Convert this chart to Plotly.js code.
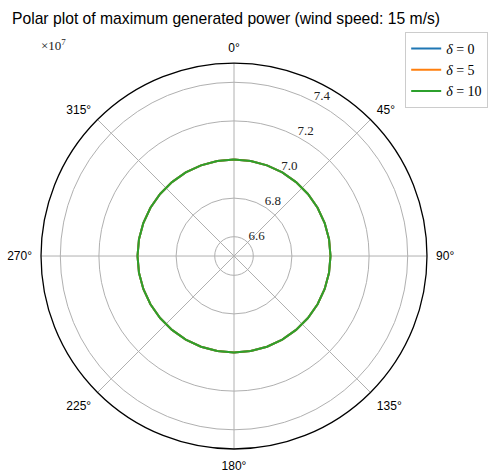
<!DOCTYPE html>
<html>
<head>
<meta charset="utf-8">
<script src="https://cdn.plot.ly/plotly-3.0.1.min.js"></script>
<style>html,body{margin:0;padding:0;background:#fff;}#chart{width:499px;height:476px;}</style>
</head>
<body>
<div id="chart"></div>
<script>
// Wind direction (degrees)
const thetaDeg = [0,10,20,30,40,50,60,70,80,90,100,110,120,130,140,150,160,170,180,
                  190,200,210,220,230,240,250,260,270,280,290,300,310,320,330,340,350,360];
// Maximum generated power (W) per yaw offset delta
const powerDelta0 = [7.0e7,7.0e7,7.0e7,7.0e7,7.0e7,7.0e7,7.0e7,7.0e7,7.0e7,7.0e7,7.0e7,7.0e7,7.0e7,7.0e7,7.0e7,7.0e7,7.0e7,7.0e7,7.0e7,
                     7.0e7,7.0e7,7.0e7,7.0e7,7.0e7,7.0e7,7.0e7,7.0e7,7.0e7,7.0e7,7.0e7,7.0e7,7.0e7,7.0e7,7.0e7,7.0e7,7.0e7,7.0e7];
const powerDelta5 = [7.0e7,7.0e7,7.0e7,7.0e7,7.0e7,7.0e7,7.0e7,7.0e7,7.0e7,7.0e7,7.0e7,7.0e7,7.0e7,7.0e7,7.0e7,7.0e7,7.0e7,7.0e7,7.0e7,
                     7.0e7,7.0e7,7.0e7,7.0e7,7.0e7,7.0e7,7.0e7,7.0e7,7.0e7,7.0e7,7.0e7,7.0e7,7.0e7,7.0e7,7.0e7,7.0e7,7.0e7,7.0e7];
const powerDelta10 = [7.0e7,7.0e7,7.0e7,7.0e7,7.0e7,7.0e7,7.0e7,7.0e7,7.0e7,7.0e7,7.0e7,7.0e7,7.0e7,7.0e7,7.0e7,7.0e7,7.0e7,7.0e7,7.0e7,
                      7.0e7,7.0e7,7.0e7,7.0e7,7.0e7,7.0e7,7.0e7,7.0e7,7.0e7,7.0e7,7.0e7,7.0e7,7.0e7,7.0e7,7.0e7,7.0e7,7.0e7,7.0e7];
const seriesNames = ["<i>δ</i> = 0", "<i>δ</i> = 5", "<i>δ</i> = 10"];
const seriesColors = ["#1f77b4", "#ff7f0e", "#2ca02c"];
const radialTickVals = [6.6e7, 6.8e7, 7.0e7, 7.2e7, 7.4e7];
const radialTickText = ["6.6<br> ", "6.8<br> ", "7.0<br> ", "7.2<br> ", "7.4<br> "];
const angleTickVals = [0,45,90,135,180,225,270,315];
const angleTickText = ["0°","45°","90°","135°","180°","225°","270°","315°"];

const seriesData = [powerDelta0, powerDelta5, powerDelta10];
const traces = seriesData.map((r, i) => ({
  type: "scatterpolar",
  mode: "lines",
  theta: thetaDeg,
  r: r,
  name: seriesNames[i],
  line: {color: seriesColors[i], width: 2}
}));

const layout = {
  width: 499, height: 476,
  margin: {l: 0, r: 0, t: 0, b: 0},
  paper_bgcolor: "#fff",
  showlegend: true,
  title: {
    text: "Polar plot of maximum generated power (wind speed: 15 m/s)",
    font: {family: "Liberation Sans, Arial, sans-serif", size: 15.7, color: "#000"},
    x: 0.024, xanchor: "left", y: 0.962, yanchor: "middle"
  },
  polar: {
    domain: {x: [0.0822, 0.8557], y: [0.0567, 0.8676]},
    bgcolor: "#fff",
    angularaxis: {
      rotation: 90, direction: "clockwise",
      tickmode: "array", tickvals: angleTickVals, ticktext: angleTickText,
      showline: true, linecolor: "#000", linewidth: 1.3,
      gridcolor: "#b0b0b0", gridwidth: 1,
      ticks: "outside", ticklen: 6, tickcolor: "rgba(0,0,0,0)",
      tickfont: {family: "Liberation Sans, Arial, sans-serif", size: 12, color: "#000"}
    },
    radialaxis: {
      range: [6.5e7, 7.5e7],
      angle: 65,
      side: "clockwise",
      tickmode: "array", tickvals: radialTickVals, ticktext: radialTickText,
      showline: false, ticks: "",
      gridcolor: "#b0b0b0", gridwidth: 1,
      tickfont: {family: "Liberation Serif, DejaVu Serif, serif", size: 13, color: "#222"},
      tickangle: 65
    }
  },
  legend: {
    x: 0.812, y: 0.933, xanchor: "left", yanchor: "top",
    bgcolor: "rgba(255,255,255,0.8)", bordercolor: "#cccccc", borderwidth: 1,
    font: {family: "Liberation Serif, DejaVu Serif, serif", size: 14, color: "#000"},
    tracegroupgap: 0
  },
  annotations: [{
    text: "×10<sup>7</sup>", xref: "paper", yref: "paper",
    x: 0.078, y: 0.905, xanchor: "left", yanchor: "middle", showarrow: false,
    font: {family: "Liberation Serif, DejaVu Serif, serif", size: 13, color: "#222"}
  }]
};

Plotly.newPlot("chart", traces, layout, {displayModeBar: false, staticPlot: true});
</script>
</body>
</html>
